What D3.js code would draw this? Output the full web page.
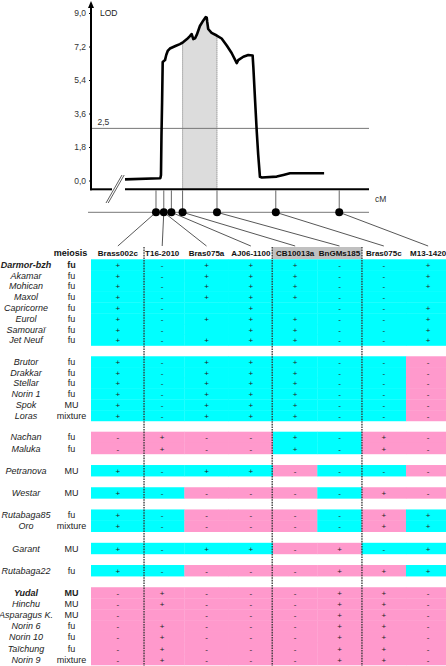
<!DOCTYPE html>
<html><head><meta charset="utf-8">
<script src="https://cdn.jsdelivr.net/npm/d3@7"></script>
<style>
html,body{margin:0;padding:0;background:#fff;}
svg{display:block;font-family:"Liberation Sans",Arial,Helvetica,sans-serif;}
</style></head><body>
<svg id="c" width="446" height="666"></svg>
<script>
// ---------------- DATA ----------------
const lodTicks = [0, 1.8, 3.6, 5.4, 7.2, 9.0];
const thresholdLOD = 2.8;          // position of the threshold line as drawn
const thresholdLabel = "2,5";

const curveCM  = [0, 14.3, 14.5, 14.75, 14.95, 15.2, 15.45, 16.4, 16.9, 17.5, 18.4, 20.9, 22.5, 23.9, 25.4,
                  26.6, 27.3, 28.0, 28.7, 29.4, 30.7, 32.1, 33.1, 33.5, 33.7, 34.1, 35.5, 37.6, 39.6, 41.7,
                  43.7, 45.8, 46.4, 48.5, 50.5, 52.3, 52.6, 53.3, 54.0, 54.6, 55.3, 56.1, 62.2, 64.9, 67.6, 81.6];
const curveLOD = [0.06, 0.12, 0.13, 0.3, 2.45, 4.2, 6.37, 6.47, 6.74, 6.96, 7.09, 7.24, 7.33, 7.44, 7.6,
                  7.76, 7.87, 7.6, 7.64, 7.82, 8.3, 8.6, 8.78, 8.75, 8.52, 8.14, 7.93, 7.79, 7.63, 7.25,
                  6.85, 6.31, 6.47, 6.65, 6.74, 6.72, 6.1, 4.33, 2.62, 1.37, 0.2, 0.16, 0.21, 0.3, 0.39, 0.39];

const markers  = ["Brass002c","T16-2010","Bras075a","AJ06-1100","CB10013a","BnGMs185","Bras075c","M13-1420"];
const markerCM = [12.7, 15.9, 15.9, 19.0, 23.6, 37.7, 61.8, 87.8];
const intervalMarkers = ["CB10013a","BnGMs185"];   // confidence interval (shaded)
const dividerBefore = ["T16-2010","CB10013a","Bras075c"];

const cultivars = ["Darmor-bzh","Akamar","Mohican","Maxol","Capricorne","Eurol","Samouraï","Jet Neuf",
  "Brutor","Drakkar","Stellar","Norin 1","Spok","Loras",
  "Nachan","Maluka",
  "Petranova",
  "Westar",
  "Rutabaga85","Oro",
  "Garant",
  "Rutabaga22",
  "Yudal","Hinchu","Asparagus K.","Norin 6","Norin 10","Taïchung","Norin 9"];
const groups = [0,0,0,0,0,0,0,0, 1,1,1,1,1,1, 2,2, 3, 4, 5,5, 6, 7, 8,8,8,8,8,8,8];
const meiosis = ["fu","fu","fu","fu","fu","fu","fu","fu",
  "fu","fu","fu","fu","MU","mixture",
  "fu","fu",
  "MU",
  "MU",
  "fu","mixture",
  "MU",
  "fu",
  "MU","MU","MU","fu","fu","fu","mixture"];
const boldCultivars = ["Darmor-bzh","Yudal"];
// allele scores per marker (space = not scored)
const alleles = [
  "+-+++--+","+-+++--+","+-+++--+","+-+++-- ","+- + --+","+-+++--+","+- ++--+","+-+++--+",
  "+-+++---","+-+++---","+-+++---","+-+++---","+-+++---","+-+++---",
  "-+--+-+-","-+--+-+-",
  "+-++----",
  "+-----+-",
  "+-----++","+-----++",
  "+-++-+-+",
  "+----+++",
  "-+---++-","-+---++-","- ---++-","-+---++-","-+---++-","-+---++-","-+---++-"];
// haplotype type per marker: D = Darmor-bzh type, Y = Yudal type
const haplotypes = [
  "DDDDDDDD","DDDDDDDD","DDDDDDDD","DDDDDDDD","DDDDDDDD","DDDDDDDD","DDDDDDDD","DDDDDDDD",
  "DDDDDDDY","DDDDDDDY","DDDDDDDY","DDDDDDDY","DDDDDDDY","DDDDDDDY",
  "YYYYDDYY","YYYYDDYY",
  "DDDDYDDY",
  "DDYYYDYY",
  "DDYYYDYD","DDYYYDYD",
  "DDDDYYDD",
  "DDYYYYYD",
  "YYYYYYYY","YYYYYYYY","YYYYYYYY","YYYYYYYY","YYYYYYYY","YYYYYYYY","YYYYYYYY"];

// ---------------- STYLE / LAYOUT ----------------
const hapColor = {D:"#00ffff", Y:"#ff99cc"};
const svg = d3.select("#c");
const axisX0 = 91, axisYpx = 189.3, mapY = 212.3, lineEndY = 246;
const x = d3.scaleLinear().domain([0,100]).range([125,369]);
const y = d3.scaleLinear().domain([0,9]).range([180.5,13]);

// ---------- LOD panel ----------
const curve = curveCM.map((c,i)=>({cm:c, lod:curveLOD[i]}));
const ia = markerCM[markers.indexOf(intervalMarkers[0])];
const ib = markerCM[markers.indexOf(intervalMarkers[1])];
const interp = d3.scaleLinear().domain(curveCM).range(curveLOD);
const shadePts = [{cm:ia, lod:interp(ia)}].concat(curve.filter(d=>d.cm>ia && d.cm<ib), [{cm:ib, lod:interp(ib)}]);
svg.append("path").datum(shadePts)
  .attr("d", d3.area().x(d=>x(d.cm)).y0(axisYpx).y1(d=>y(d.lod)))
  .attr("fill","#dcdcdc");
[ia, ib].forEach(c=>{
  svg.append("line").attr("x1",x(c)).attr("x2",x(c)).attr("y1",y(interp(c))).attr("y2",axisYpx)
    .attr("stroke","#777").attr("stroke-width",1).attr("stroke-dasharray","1,1");
});
// threshold
svg.append("line").attr("x1",axisX0).attr("x2",x(100)).attr("y1",y(thresholdLOD)).attr("y2",y(thresholdLOD))
  .attr("stroke","#777").attr("stroke-width",1);
svg.append("text").attr("x",97.5).attr("y",y(thresholdLOD)-3.5).attr("font-size",8.5).attr("fill","#333").text(thresholdLabel);
// curve
svg.append("path").datum(curve)
  .attr("d", d3.line().x(d=>x(d.cm)).y(d=>y(d.lod)))
  .attr("fill","none").attr("stroke","#000").attr("stroke-width",2.6).attr("stroke-linejoin","round");

// y axis
const yAxis = d3.axisLeft(y).tickValues(lodTicks).tickSize(2).tickPadding(3)
  .tickFormat(d=>d3.format(".1f")(d).replace(".",","));
const gy = svg.append("g").attr("transform",`translate(${axisX0},0)`).call(yAxis);
gy.select(".domain").remove();
gy.selectAll("text").attr("font-size",8.5).attr("fill","#333").attr("font-family","Liberation Sans, Arial, sans-serif");
gy.selectAll(".tick line").attr("stroke","#000");
svg.append("line").attr("x1",axisX0).attr("x2",axisX0).attr("y1",axisYpx+1).attr("y2",6)
  .attr("stroke","#000").attr("stroke-width",2);
svg.append("path").attr("d",`M${axisX0-3},8 L${axisX0},1 L${axisX0+3},8 Z`).attr("fill","#000");
svg.append("text").attr("x",100).attr("y",15.5).attr("font-size",8.5).attr("fill","#222").text("LOD");

// x axis with break
svg.append("line").attr("x1",axisX0-1).attr("x2",112).attr("y1",axisYpx).attr("y2",axisYpx).attr("stroke","#000").attr("stroke-width",2);
svg.append("line").attr("x1",x(0)).attr("x2",x(100)).attr("y1",axisYpx).attr("y2",axisYpx).attr("stroke","#000").attr("stroke-width",2);
[0,2.2].forEach(o=>{
  svg.append("line").attr("x1",106+o).attr("y1",203).attr("x2",122+o).attr("y2",175)
    .attr("stroke","#333").attr("stroke-width",0.8);
});
svg.append("text").attr("x",375).attr("y",201.5).attr("font-size",8.5).attr("fill","#333").text("cM");

// genetic map
svg.append("line").attr("x1",88).attr("x2",x(100)).attr("y1",mapY).attr("y2",mapY).attr("stroke","#777").attr("stroke-width",1);
const uniq = Array.from(new Set(markerCM));
svg.selectAll("line.stem").data(uniq).join("line").attr("class","stem")
  .attr("x1",d=>x(d)).attr("x2",d=>x(d)).attr("y1",axisYpx+1).attr("y2",mapY)
  .attr("stroke","#666").attr("stroke-width",1);

// table columns
const col = d3.scaleBand().domain(markers).range([95.7,450.3]);
const tableLeft = 91;
svg.selectAll("line.conn").data(markers).join("line").attr("class","conn")
  .attr("x1",(d,i)=>x(markerCM[i])).attr("y1",mapY)
  .attr("x2",d=>col(d)+col.bandwidth()/2).attr("y2",lineEndY)
  .attr("stroke","#444").attr("stroke-width",0.9);
svg.selectAll("circle.dot").data(uniq).join("circle").attr("class","dot")
  .attr("cx",d=>x(d)).attr("cy",mapY).attr("r",4).attr("fill","#000");

// ---------- TABLE ----------
const slotY = d3.scaleLinear().domain([0,16,37]).range([259.3,431.7,665]);
const rows = cultivars.map((c,i)=>({name:c, slot:i+groups[i], mei:meiosis[i], al:alleles[i], hap:haplotypes[i]}));

// header
const hx0 = col(intervalMarkers[0]) - 0.8;
const hx1 = col(dividerBefore[2]);
svg.append("rect").attr("x",hx0).attr("y",247).attr("width",hx1-hx0).attr("height",slotY(0)-247).attr("fill","#c0c0c0");
svg.selectAll("text.hdr").data(markers).join("text").attr("class","hdr")
  .attr("x",d=>col(d)+col.bandwidth()/2).attr("y",256).attr("text-anchor","middle")
  .attr("font-size",8).attr("font-weight","bold").attr("fill","#111").text(d=>d);
svg.append("text").attr("x",70.5).attr("y",256).attr("text-anchor","middle").attr("font-size",9)
  .attr("font-weight","bold").attr("fill","#111").text("meiosis");

// cells
rows.forEach(r=>{
  const y0 = slotY(r.slot), y1 = slotY(r.slot+1);
  const g = svg.append("g");
  markers.forEach((m,j)=>{
    const xs = j===0 ? tableLeft : col(m);
    const xe = col(m)+col.bandwidth()+0.3;
    g.append("rect").attr("x",xs).attr("y",y0).attr("width",xe-xs).attr("height",y1-y0+0.3)
      .attr("fill",hapColor[r.hap[j]]);
  });
  const base = (y0+y1)/2 + 3.2;
  markers.forEach((m,j)=>{
    const s = r.al[j];
    if (s.trim()==="") return;
    g.append("text").attr("x",col(m)+col.bandwidth()/2).attr("y",base).attr("text-anchor","middle")
      .attr("font-size",8).attr("fill","#222").text(s);
  });
  const bold = boldCultivars.includes(r.name);
  g.append("text").attr("x",26).attr("y",base).attr("text-anchor","middle").attr("font-size",9)
    .attr("font-style","italic").attr("font-weight",bold?"bold":"normal").attr("fill","#222").text(r.name);
  g.append("text").attr("x",71.5).attr("y",base).attr("text-anchor","middle").attr("font-size",9)
    .attr("font-weight",bold?"bold":"normal").attr("fill","#222").text(r.mei);
});

// dotted dividers
const divOffset = {"T16-2010":4, "CB10013a":-0.8, "Bras075c":0.3};
dividerBefore.forEach(m=>{
  const xx = col(m)+divOffset[m];
  svg.append("line").attr("x1",xx).attr("x2",xx).attr("y1",247).attr("y2",666)
    .attr("stroke","#333").attr("stroke-width",1.3).attr("stroke-dasharray","1.6,1");
});
</script>
</body></html>
